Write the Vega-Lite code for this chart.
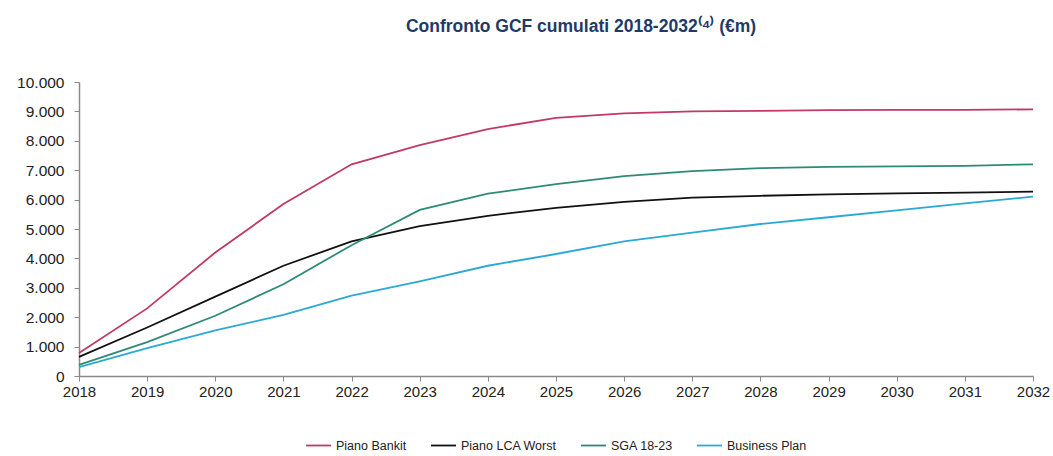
{
  "$schema": "https://vega.github.io/schema/vega-lite/v6.json",
  "width": 954,
  "height": 294,
  "autosize": {"type": "none"},
  "padding": {"left": 79, "top": 82, "right": 20, "bottom": 80},
  "background": "white",
  "title": {
    "text": "Confronto GCF cumulati 2018-2032⁽⁴⁾ (€m)",
    "font": "Liberation Sans",
    "fontSize": 17.5,
    "fontWeight": "bold",
    "color": "#1f3a68",
    "anchor": "middle",
    "dx": 25,
    "offset": 40
  },
  "config": {
    "locale": {"number": {"decimal": ",", "thousands": ".", "grouping": [3], "currency": ["€", ""]}},
    "view": {"stroke": null},
    "font": "Liberation Sans",
    "legend": {"layout": {"bottom": {"anchor": "middle"}}}
  },
  "data": {
    "values": [
      {"anno": 2018, "serie": "Piano Bankit", "valore": 780},
      {"anno": 2019, "serie": "Piano Bankit", "valore": 2300},
      {"anno": 2020, "serie": "Piano Bankit", "valore": 4200},
      {"anno": 2021, "serie": "Piano Bankit", "valore": 5850},
      {"anno": 2022, "serie": "Piano Bankit", "valore": 7200},
      {"anno": 2023, "serie": "Piano Bankit", "valore": 7850},
      {"anno": 2024, "serie": "Piano Bankit", "valore": 8400},
      {"anno": 2025, "serie": "Piano Bankit", "valore": 8780},
      {"anno": 2026, "serie": "Piano Bankit", "valore": 8930},
      {"anno": 2027, "serie": "Piano Bankit", "valore": 9000},
      {"anno": 2028, "serie": "Piano Bankit", "valore": 9020},
      {"anno": 2029, "serie": "Piano Bankit", "valore": 9040},
      {"anno": 2030, "serie": "Piano Bankit", "valore": 9050},
      {"anno": 2031, "serie": "Piano Bankit", "valore": 9050},
      {"anno": 2032, "serie": "Piano Bankit", "valore": 9070},
      {"anno": 2018, "serie": "Piano LCA Worst", "valore": 650},
      {"anno": 2019, "serie": "Piano LCA Worst", "valore": 1650},
      {"anno": 2020, "serie": "Piano LCA Worst", "valore": 2700},
      {"anno": 2021, "serie": "Piano LCA Worst", "valore": 3750},
      {"anno": 2022, "serie": "Piano LCA Worst", "valore": 4580},
      {"anno": 2023, "serie": "Piano LCA Worst", "valore": 5100},
      {"anno": 2024, "serie": "Piano LCA Worst", "valore": 5450},
      {"anno": 2025, "serie": "Piano LCA Worst", "valore": 5720},
      {"anno": 2026, "serie": "Piano LCA Worst", "valore": 5920},
      {"anno": 2027, "serie": "Piano LCA Worst", "valore": 6070},
      {"anno": 2028, "serie": "Piano LCA Worst", "valore": 6130},
      {"anno": 2029, "serie": "Piano LCA Worst", "valore": 6180},
      {"anno": 2030, "serie": "Piano LCA Worst", "valore": 6210},
      {"anno": 2031, "serie": "Piano LCA Worst", "valore": 6240},
      {"anno": 2032, "serie": "Piano LCA Worst", "valore": 6270},
      {"anno": 2018, "serie": "SGA 18-23", "valore": 380},
      {"anno": 2019, "serie": "SGA 18-23", "valore": 1150},
      {"anno": 2020, "serie": "SGA 18-23", "valore": 2050},
      {"anno": 2021, "serie": "SGA 18-23", "valore": 3120},
      {"anno": 2022, "serie": "SGA 18-23", "valore": 4450},
      {"anno": 2023, "serie": "SGA 18-23", "valore": 5650},
      {"anno": 2024, "serie": "SGA 18-23", "valore": 6200},
      {"anno": 2025, "serie": "SGA 18-23", "valore": 6530},
      {"anno": 2026, "serie": "SGA 18-23", "valore": 6800},
      {"anno": 2027, "serie": "SGA 18-23", "valore": 6970},
      {"anno": 2028, "serie": "SGA 18-23", "valore": 7070},
      {"anno": 2029, "serie": "SGA 18-23", "valore": 7110},
      {"anno": 2030, "serie": "SGA 18-23", "valore": 7130},
      {"anno": 2031, "serie": "SGA 18-23", "valore": 7150},
      {"anno": 2032, "serie": "SGA 18-23", "valore": 7200},
      {"anno": 2018, "serie": "Business Plan", "valore": 300},
      {"anno": 2019, "serie": "Business Plan", "valore": 950},
      {"anno": 2020, "serie": "Business Plan", "valore": 1550},
      {"anno": 2021, "serie": "Business Plan", "valore": 2080},
      {"anno": 2022, "serie": "Business Plan", "valore": 2730},
      {"anno": 2023, "serie": "Business Plan", "valore": 3220},
      {"anno": 2024, "serie": "Business Plan", "valore": 3750},
      {"anno": 2025, "serie": "Business Plan", "valore": 4150},
      {"anno": 2026, "serie": "Business Plan", "valore": 4580},
      {"anno": 2027, "serie": "Business Plan", "valore": 4880},
      {"anno": 2028, "serie": "Business Plan", "valore": 5170},
      {"anno": 2029, "serie": "Business Plan", "valore": 5400},
      {"anno": 2030, "serie": "Business Plan", "valore": 5630},
      {"anno": 2031, "serie": "Business Plan", "valore": 5870},
      {"anno": 2032, "serie": "Business Plan", "valore": 6100}
    ]
  },
  "mark": {"type": "line", "strokeWidth": 1.8, "interpolate": "linear"},
  "encoding": {
    "x": {
      "field": "anno",
      "type": "quantitative",
      "scale": {"domain": [2018, 2032], "nice": false, "zero": false},
      "axis": {
        "title": null,
        "values": [2018, 2019, 2020, 2021, 2022, 2023, 2024, 2025, 2026, 2027, 2028, 2029, 2030, 2031, 2032],
        "format": "d",
        "grid": false,
        "labelFlush": false,
        "labelOverlap": false,
        "domainColor": "#8a8a8a",
        "domainWidth": 1.5,
        "tickColor": "#8a8a8a",
        "tickSize": 5,
        "labelFontSize": 15,
        "labelColor": "#222222",
        "labelPadding": 3
      }
    },
    "y": {
      "field": "valore",
      "type": "quantitative",
      "scale": {"domain": [0, 10000], "nice": false},
      "axis": {
        "title": null,
        "values": [0, 1000, 2000, 3000, 4000, 5000, 6000, 7000, 8000, 9000, 10000],
        "format": ",d",
        "grid": false,
        "labelFlush": false,
        "domainColor": "#8a8a8a",
        "domainWidth": 1.5,
        "tickColor": "#8a8a8a",
        "tickSize": 5,
        "labelFontSize": 15.5,
        "labelColor": "#222222",
        "labelPadding": 10
      }
    },
    "color": {
      "field": "serie",
      "type": "nominal",
      "sort": ["Piano Bankit", "Piano LCA Worst", "SGA 18-23", "Business Plan"],
      "scale": {
        "domain": ["Piano Bankit", "Piano LCA Worst", "SGA 18-23", "Business Plan"],
        "range": ["#c23a63", "#111111", "#2e8a78", "#2ba9d6"]
      },
      "legend": {
        "title": null,
        "orient": "bottom",
        "direction": "horizontal",
        "symbolType": "stroke",
        "symbolSize": 625,
        "symbolStrokeWidth": 1.8,
        "labelFontSize": 12.5,
        "labelColor": "#222222",
        "columnPadding": 20,
        "offset": 33
      }
    }
  }
}
